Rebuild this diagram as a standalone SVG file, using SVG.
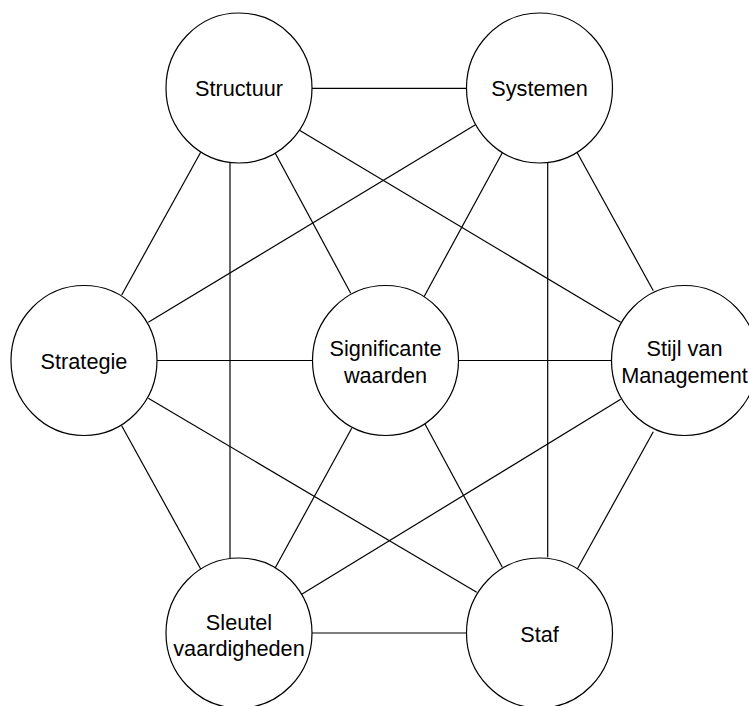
<svg xmlns="http://www.w3.org/2000/svg" width="749" height="706" viewBox="0 0 749 706">
  <style>
    .node ellipse { fill: #ffffff; stroke: #000000; stroke-width: 1.2; }
    .node text { font-family: "Liberation Sans", Arial, Helvetica, sans-serif; font-size: 21.7px; fill: #000000; text-anchor: middle; }
    #connectors line { stroke: #000000; stroke-width: 1.2; fill: none; }
  </style>
  <rect width="749" height="706" fill="#ffffff"/>

  <!-- links between the seven elements -->
  <g id="connectors">
    <line x1="312" y1="88.3" x2="466.5" y2="88.3"/>
    <line x1="200.7" y1="152.3" x2="121.7" y2="295"/>
    <line x1="230" y1="162.5" x2="230" y2="558.3"/>
    <line x1="275" y1="152.7" x2="350.7" y2="293.3"/>
    <line x1="299" y1="130" x2="620.7" y2="322.3"/>
    <line x1="475" y1="125" x2="148.3" y2="322.3"/>
    <line x1="502.3" y1="152.7" x2="424" y2="296.7"/>
    <line x1="547.7" y1="162.5" x2="547.7" y2="557.3"/>
    <line x1="576.7" y1="151.7" x2="653.3" y2="290.7"/>
    <line x1="156.7" y1="360.5" x2="312" y2="360.5"/>
    <line x1="148.3" y1="398.3" x2="476.7" y2="592.3"/>
    <line x1="121.7" y1="425.7" x2="200.7" y2="569"/>
    <line x1="459" y1="360.5" x2="611.7" y2="360.5"/>
    <line x1="351.7" y1="428.3" x2="275" y2="568.3"/>
    <line x1="425" y1="424" x2="502.3" y2="567.3"/>
    <line x1="620.7" y1="399.3" x2="301.7" y2="594.3"/>
    <line x1="653.3" y1="431.7" x2="577.3" y2="569"/>
    <line x1="312" y1="633" x2="466.5" y2="633"/>
  </g>

  <g id="structuur" class="node">
    <ellipse cx="239" cy="88" rx="73" ry="75"/>
    <text x="239" y="96">Structuur</text>
  </g>

  <g id="systemen" class="node">
    <ellipse cx="539.5" cy="88" rx="73" ry="75"/>
    <text x="539.5" y="96">Systemen</text>
  </g>

  <g id="strategie" class="node">
    <ellipse cx="84" cy="360.5" rx="73" ry="75"/>
    <text x="84" y="368.5">Strategie</text>
  </g>

  <g id="significante-waarden" class="node">
    <ellipse cx="385.5" cy="360.5" rx="73" ry="75"/>
    <text x="385.5" y="356">Significante</text>
    <text x="385.5" y="383">waarden</text>
  </g>

  <g id="stijl-van-management" class="node">
    <ellipse cx="684.5" cy="360.5" rx="73" ry="75"/>
    <text x="684.5" y="356">Stijl van</text>
    <text x="684.5" y="382.5">Management</text>
  </g>

  <g id="sleutel-vaardigheden" class="node">
    <ellipse cx="239" cy="633" rx="73" ry="75"/>
    <text x="239" y="629.5">Sleutel</text>
    <text x="239" y="656">vaardigheden</text>
  </g>

  <g id="staf" class="node">
    <ellipse cx="539.5" cy="633" rx="73" ry="75"/>
    <text x="539.5" y="641.5">Staf</text>
  </g>
</svg>
